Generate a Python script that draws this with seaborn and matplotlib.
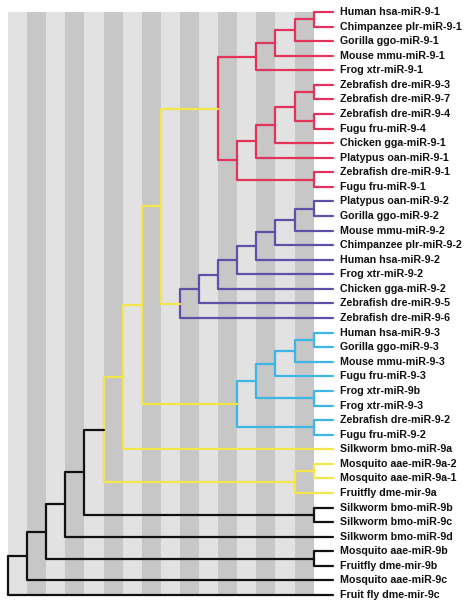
import matplotlib
matplotlib.use("Agg")
import matplotlib.pyplot as plt
import pandas as pd
import seaborn as sns

# leaf labels, top to bottom
labels = [
    "Human hsa-miR-9-1", "Chimpanzee plr-miR-9-1", "Gorilla ggo-miR-9-1",
    "Mouse mmu-miR-9-1", "Frog xtr-miR-9-1", "Zebrafish dre-miR-9-3",
    "Zebrafish dre-miR-9-7", "Zebrafish dre-miR-9-4", "Fugu fru-miR-9-4",
    "Chicken gga-miR-9-1", "Platypus oan-miR-9-1", "Zebrafish dre-miR-9-1",
    "Fugu fru-miR-9-1", "Platypus oan-miR-9-2", "Gorilla ggo-miR-9-2",
    "Mouse mmu-miR-9-2", "Chimpanzee plr-miR-9-2", "Human hsa-miR-9-2",
    "Frog xtr-miR-9-2", "Chicken gga-miR-9-2", "Zebrafish dre-miR-9-5",
    "Zebrafish dre-miR-9-6", "Human hsa-miR-9-3", "Gorilla ggo-miR-9-3",
    "Mouse mmu-miR-9-3", "Fugu fru-miR-9-3", "Frog xtr-miR-9b",
    "Frog xtr-miR-9-3", "Zebrafish dre-miR-9-2", "Fugu fru-miR-9-2",
    "Silkworm bmo-miR-9a", "Mosquito aae-miR-9a-2", "Mosquito aae-miR-9a-1",
    "Fruitfly dme-mir-9a", "Silkworm bmo-miR-9b", "Silkworm bmo-miR-9c",
    "Silkworm bmo-miR-9d", "Mosquito aae-miR-9b", "Fruitfly dme-mir-9b",
    "Mosquito aae-miR-9c", "Fruit fly dme-mir-9c",
]
leaf_depth = 17

# internal nodes: name -> (depth, clade, [children]); ints are leaf indices
nodes = {
    # miR-9-1 clade
    "r1": (16, "red", [0, 1]),
    "r2": (15, "red", ["r1", 2]),
    "r3": (14, "red", ["r2", 3]),
    "r4": (13, "red", ["r3", 4]),
    "r5": (16, "red", [5, 6]),
    "r6": (16, "red", [7, 8]),
    "r7": (15, "red", ["r5", "r6"]),
    "r8": (14, "red", ["r7", 9]),
    "r9": (13, "red", ["r8", 10]),
    "r10": (16, "red", [11, 12]),
    "r11": (12, "red", ["r9", "r10"]),
    "r12": (11, "red", ["r4", "r11"]),
    # miR-9-2 clade
    "b1": (16, "blue", [13, 14]),
    "b2": (15, "blue", ["b1", 15]),
    "b3": (14, "blue", ["b2", 16]),
    "b4": (13, "blue", ["b3", 17]),
    "b5": (12, "blue", ["b4", 18]),
    "b6": (11, "blue", ["b5", 19]),
    "b7": (10, "blue", ["b6", 20]),
    "b8": (9, "blue", ["b7", 21]),
    # miR-9-3 clade
    "c1": (16, "cyan", [22, 23]),
    "c2": (15, "cyan", ["c1", 24]),
    "c3": (14, "cyan", ["c2", 25]),
    "c4": (16, "cyan", [26, 27]),
    "c5": (13, "cyan", ["c3", "c4"]),
    "c6": (16, "cyan", [28, 29]),
    "c7": (12, "cyan", ["c5", "c6"]),
    # miR-9a clade
    "y1": (8, "yellow", ["r12", "b8"]),
    "y2": (7, "yellow", ["y1", "c7"]),
    "y3": (6, "yellow", ["y2", 30]),
    "y4": (16, "yellow", [31, 32]),
    "y5": (15, "yellow", ["y4", 33]),
    "y6": (5, "yellow", ["y3", "y5"]),
    # outgroups
    "k1": (16, "black", [34, 35]),
    "k2": (4, "black", ["y6", "k1"]),
    "k3": (3, "black", ["k2", 36]),
    "k4": (16, "black", [37, 38]),
    "k5": (2, "black", ["k3", "k4"]),
    "k6": (1, "black", ["k5", 39]),
    "k7": (0, "black", ["k6", 40]),
}

palette = {"red": "#e2345a", "blue": "#5e50a6", "cyan": "#3db6e6",
           "yellow": "#f3e64b", "black": "#111111"}


def position(n):
    if isinstance(n, int):
        return leaf_depth, n
    depth, _, kids = nodes[n]
    ys = [position(k)[1] for k in kids]
    return depth, sum(ys) / len(ys)


# one elbow path per internal node
rows = []
for name, (depth, clade, kids) in nodes.items():
    (x1, y1), (x2, y2) = position(kids[0]), position(kids[1])
    for x, y in [(x1, y1), (depth, y1), (depth, y2), (x2, y2)]:
        rows.append({"node": name, "clade": clade, "x": x, "y": y})
df = pd.DataFrame(rows)

sns.set_theme(style="white")
fig = plt.figure(figsize=(4.72, 6.10), dpi=100)
ax = fig.add_axes([0, 0, 1, 1])

# alternating grey bands behind the tree
for i in range(16):
    ax.fill_between([i, i + 1], -0.03, len(labels) - 1 + 0.1,
                    color="#e2e2e2" if i % 2 == 0 else "#c7c7c7", lw=0, zorder=0)

sns.lineplot(data=df, x="x", y="y", units="node", hue="clade", palette=palette,
             estimator=None, sort=False, lw=1.6, legend=False, ax=ax, zorder=2)

for i, lab in enumerate(labels):
    ax.text(leaf_depth + 0.37, i, lab, va="center", ha="left", fontsize=7.7,
            fontweight="bold", family=["Liberation Sans", "DejaVu Sans"], color="#111111")

unit, row = 19.1, 14.575
ax.set_xlim(-8 / unit, (472 - 8) / unit)
ax.set_ylim((610 - 12) / row, -12 / row)
ax.axis("off")

fig.savefig("out.png", dpi=100, facecolor="white")
